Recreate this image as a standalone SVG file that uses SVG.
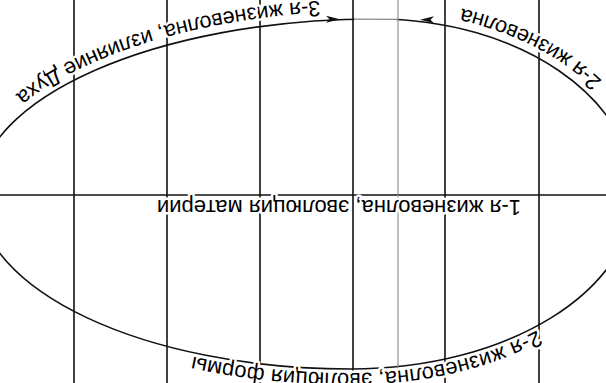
<svg xmlns="http://www.w3.org/2000/svg" width="606" height="383" viewBox="0 0 606 383">
<style>
.ln{stroke:#111;stroke-width:1.6;fill:none}
.thin{stroke:#888;stroke-width:1.1;fill:none}
.t{font-family:"Liberation Sans",Arial,sans-serif;font-size:22px;fill:#000;stroke:#fff;stroke-width:5;paint-order:stroke;stroke-linejoin:round}
.ah{fill:#111;stroke:none}
</style>
<defs>
<path id="pTop" d="M -32,189 C -32,90 97,10 255,10 C 463,10 632,90 632,189"/>
<path id="pBR" d="M 230,384 C 465,384 648,296 648,189"/>
<path id="pBL" d="M -48,189 C -48,296 76,384 230,384"/>
</defs>
<rect x="0" y="0" width="606" height="383" fill="#fff"/>
<g transform="rotate(180 303 191.5)">
<g id="connectors">
<path id="ellipse" class="ln" d="M -28,189 C -28,92 99,14 255,14 C 461,14 628,92 628,189 C 628,285 450,364 230,364 C 87,364 -28,285 -28,189 Z"/>
<rect x="209.5" y="358" width="42" height="10" fill="#fff"/>
<path class="thin" d="M 208,363.6 L 253,363.9"/>
<path class="ah" d="M 266,363.8 L 280,360.3 L 276.5,363.8 L 280,367.3 Z"/>
<path class="ah" d="M 186,363.3 L 172,359.8 L 175.5,363.3 L 172,366.8 Z"/>
<line class="ln" x1="0" y1="188" x2="606" y2="188"/>
<line class="ln" x1="67" y1="0" x2="67" y2="383"/>
<line class="ln" x1="161" y1="0" x2="161" y2="383"/>
<line class="thin" x1="208" y1="0" x2="208" y2="383"/>
<line class="ln" x1="253" y1="0" x2="253" y2="383"/>
<line class="ln" x1="346" y1="0" x2="346" y2="383"/>
<line class="ln" x1="439" y1="0" x2="439" y2="383"/>
<line class="ln" x1="532" y1="0" x2="532" y2="383"/>
</g>
<g id="label-mid"><text class="t" x="85" y="183">1-я жизневолна, эволюция материи</text></g>
<g id="label-top"><text class="t"><textPath href="#pTop" startOffset="178">2-я жизневолна, эволюция формы</textPath></text></g>
<g id="label-br"><text class="t"><textPath href="#pBR" startOffset="56">3-я жизневолна, излияние Духа</textPath></text></g>
<g id="label-bl"><text class="t"><textPath href="#pBL" startOffset="128">2-я жизневолна</textPath></text></g>
</g>
</svg>
